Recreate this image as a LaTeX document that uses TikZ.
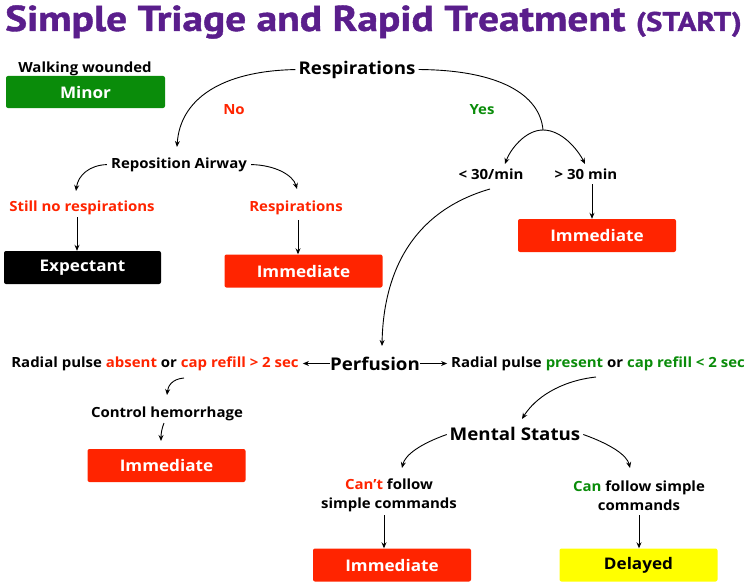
\documentclass[tikz,border=0pt]{standalone}
\usepackage{fontspec}
\setmainfont{Open Sans}[FakeStretch=1.07]
\newfontfamily\titlefont{PT Sans}[FakeStretch=1.15,FakeBold=1.2]
\usetikzlibrary{arrows.meta}
\definecolor{tpurple}{HTML}{5A1E8C}
\definecolor{tred}{HTML}{FF2400}
\definecolor{tgreen}{HTML}{0A8C0A}
\definecolor{tyellow}{HTML}{FFFF00}
\tikzset{
  box/.style={rounded corners=2pt, minimum width=158pt, minimum height=33pt, inner sep=0pt, font=\fontsize{16}{20}\selectfont\bfseries, text=white},
  lbl/.style={inner sep=0pt, yshift=-1.5pt, font=\fontsize{14}{19.5}\selectfont\bfseries, align=center},
  big/.style={inner sep=0pt, yshift=-1.5pt, font=\fontsize{17.5}{20}\selectfont\bfseries},
  arr/.style={line width=0.9pt, -{Stealth[length=6pt,width=5pt]}},
  ln/.style={line width=0.9pt}
}
\begin{document}
\begin{tikzpicture}[x=1pt,y=-1pt]
\useasboundingbox (0,0) rectangle (747,586);
% title
\node[anchor=base west, inner sep=0pt, text=tpurple, font=\titlefont\bfseries\fontsize{36}{38}\selectfont] (title) at (5,31) {Simple Triage and Rapid Treatment {\fontsize{27}{28}\selectfont(START)}};
% top left
\node[lbl] (walk) at (85,67) {Walking wounded};
\node[box, fill=tgreen, minimum width=159pt, minimum height=32pt] (minor) at (85.5,92) {Minor};
% respirations
\node[big] (resp) at (357,68) {Respirations};
\node[lbl, text=tred] (no) at (234,108) {No};
\node[lbl, text=tgreen] (yes) at (482,108) {Yes};
\coordinate (split) at (543,130);
\node[lbl] (repo) at (179,163) {Reposition Airway};
\draw[arr, shorten <=3pt] (resp.west) .. controls (220,71) and (180,100) .. (177,147);
\draw[ln, shorten <=3pt] (resp.east) .. controls (500,70) and (540,95) .. (split);
\node[lbl] (lt30) at (491,173) {< 30/min};
\node[lbl] (gt30) at (586,173) {> 30 min};
\draw[arr] (split) .. controls (525,130) and (510,150) .. (505,164);
\draw[arr] (split) .. controls (562,130) and (578,150) .. (585,164);
\node[box, fill=tred] (imm2) at (597,235.5) {Immediate};
\draw[arr] (592,184) -- (imm2.north -| 592,0);
% reposition branches
\node[lbl, text=tred] (still) at (82,206) {Still no respirations};
\node[lbl, text=tred] (resp2) at (296,206) {Respirations};
\draw[arr, shorten <=4pt] (repo.west) .. controls (90,165) and (78,175) .. (76,191);
\draw[arr, shorten <=4pt] (repo.east) .. controls (275,165) and (293,175) .. (297,189);
\node[box, fill=black, minimum width=157pt] (exp) at (82.5,267.5) {Expectant};
\node[box, fill=tred] (imm1) at (303.5,271) {Immediate};
\draw[arr] (77,217) -- (exp.north -| 77,0);
\draw[arr] (298,220) -- (imm1.north -| 298,0);
% perfusion
\node[big] (perf) at (375,362) {Perfusion};
\draw[arr] (490,189) .. controls (400,215) and (383,290) .. (382,346);
\node[lbl] (absent) at (155,362) {Radial pulse \textcolor{tred}{absent} or \textcolor{tred}{cap refill > 2 sec}};
\node[lbl] (present) at (598,362) {Radial pulse \textcolor{tgreen}{present} or \textcolor{tgreen}{cap refill < 2 sec}};
\draw[arr] (perf.west) -- ++(-27,0) coordinate (pl);
\draw[arr] (perf.east) -- ++(27,0) coordinate (pr);
\node[lbl] (ctrl) at (167,412) {Control hemorrhage};
\draw[arr] (184,378) .. controls (172,379) and (168,386) .. (167,395);
\node[box, fill=tred] (imm3) at (166.5,465.5) {Immediate};
\draw[arr] (164,423) .. controls (162,428) and (161,433) .. (161,441);
% mental status
\node[big] (ment) at (515,432) {Mental Status};
\draw[arr] (596,377) .. controls (560,381) and (535,398) .. (522,419);
\node[lbl] (cant) at (389,494) {\textcolor{tred}{Can’t} follow\\simple commands};
\node[lbl] (can) at (639,494) {\textcolor{tgreen}{Can} follow simple\\commands};
\draw[arr, shorten <=3pt] (ment.west) .. controls (420,444) and (405,455) .. (402,468);
\draw[arr, shorten <=3pt] (ment.east) .. controls (610,444) and (627,455) .. (630,468);
\node[box, fill=tred] (imm4) at (392,565) {Immediate};
\node[box, fill=tyellow, text=black] (del) at (638.5,565) {Delayed};
\draw[arr] (384,515) -- (imm4.north -| 384,0);
\draw[arr] (639,515) -- (del.north -| 639,0);
\end{tikzpicture}
\end{document}
